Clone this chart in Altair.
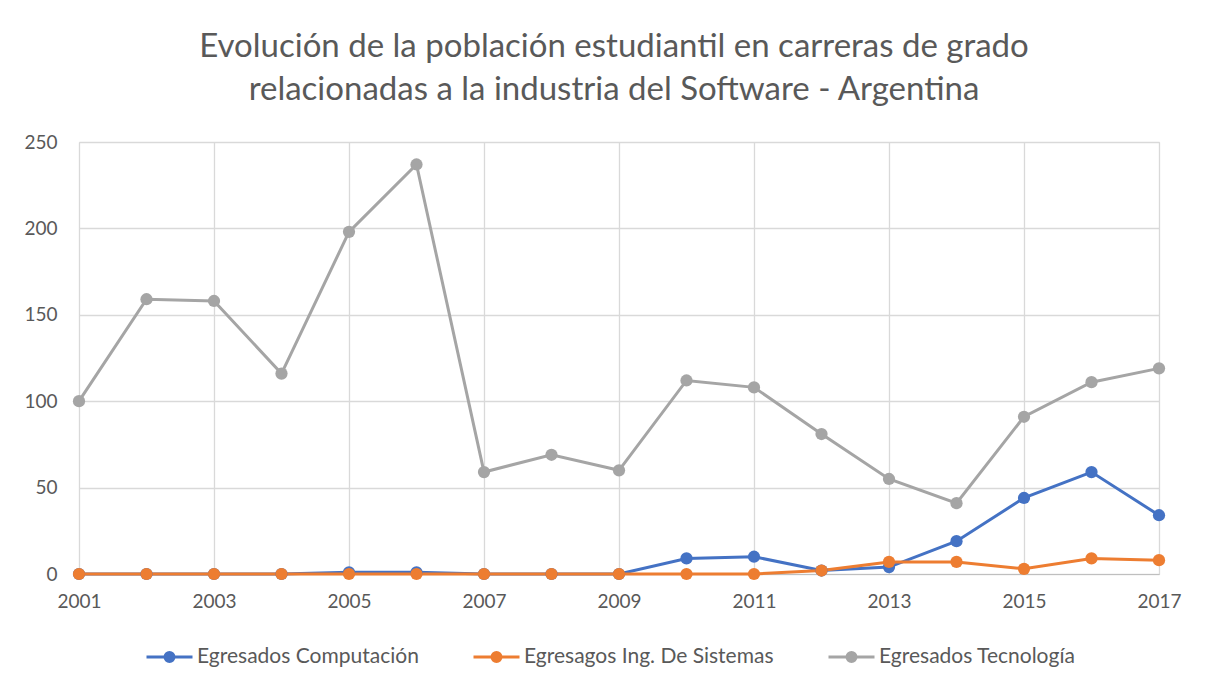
import altair as alt
import pandas as pd

years = list(range(2001, 2018))
computacion = [0, 0, 0, 0, 1, 1, 0, 0, 0, 9, 10, 2, 4, 19, 44, 59, 34]
sistemas = [0, 0, 0, 0, 0, 0, 0, 0, 0, 0, 0, 2, 7, 7, 3, 9, 8]
tecnologia = [100, 159, 158, 116, 198, 237, 59, 69, 60, 112, 108, 81, 55, 41, 91, 111, 119]

series_names = ["Egresados Computación", "Egresagos Ing. De Sistemas", "Egresados Tecnología"]
series_colors = ["#4472C4", "#ED7D31", "#A5A5A5"]
x_ticks = list(range(2001, 2018, 2))
y_ticks = [0, 50, 100, 150, 200, 250]

rows = []
for i, (name, vals) in enumerate(zip(series_names, [computacion, sistemas, tecnologia])):
    for yr, v in zip(years, vals):
        rows.append({"Año": yr, "Valor": v, "Serie": name, "Orden": i})
df = pd.DataFrame(rows)

FONT = "Lato"
TEXT = "#595959"
GRID = "#D9D9D9"

# legend glyph: line segment with a dot (dot built from concentric stroked rings)
legend_path = ("M-1,0H1 "
               "M-0.065,0A0.065,0.065 0 1,0 0.065,0A0.065,0.065 0 1,0 -0.065,0 "
               "M-0.13,0A0.13,0.13 0 1,0 0.13,0A0.13,0.13 0 1,0 -0.13,0 "
               "M-0.196,0A0.196,0.196 0 1,0 0.196,0A0.196,0.196 0 1,0 -0.196,0")

x_enc = alt.X("Año:Q",
              scale=alt.Scale(domain=[2001, 2017], nice=False, zero=False),
              axis=alt.Axis(values=x_ticks, format="d", title=None, ticks=False,
                            domain=True, domainColor="#BFBFBF", domainWidth=1,
                            labelFontSize=19, labelColor=TEXT, labelFont=FONT,
                            labelPadding=18, gridColor=GRID, gridWidth=1.3,
                            labelFlush=False))
y_enc = alt.Y("Valor:Q",
              scale=alt.Scale(domain=[0, 250], nice=False),
              axis=alt.Axis(values=y_ticks, title=None, ticks=False, domain=False,
                            labelFontSize=19, labelColor=TEXT, labelFont=FONT,
                            labelPadding=22, gridColor=GRID, gridWidth=1.3))
color_enc = alt.Color("Serie:N",
                      scale=alt.Scale(domain=series_names, range=series_colors),
                      sort=series_names,
                      legend=alt.Legend(title=None, orient="none", direction="horizontal",
                                        legendX=66, legendY=490,
                                        symbolType=legend_path, symbolSize=2116,
                                        symbolStrokeWidth=3, symbolOpacity=1,
                                        symbolFillColor="transparent",
                                        labelFontSize=21, labelFont=FONT, labelColor=TEXT,
                                        labelLimit=500, labelOffset=3, columnPadding=48))

lines = alt.Chart(df).mark_line(strokeWidth=3).encode(
    x=x_enc, y=y_enc, color=color_enc, detail="Serie:N")
points = alt.Chart(df).mark_point(filled=True, size=150, opacity=1).encode(
    x=x_enc, y=y_enc, color=alt.Color("Serie:N",
                                      scale=alt.Scale(domain=series_names, range=series_colors),
                                      legend=None),
    order=alt.Order("Orden:Q"))

chart = alt.layer(lines, points).properties(
    width=1080, height=432,
    title=alt.Title(["Evolución de la población estudiantil en carreras de grado",
                     "relacionadas a la industria del Software - Argentina"],
                    fontSize=33, font=FONT, color=TEXT, fontWeight="normal",
                    anchor="middle", lineHeight=43, offset=26, dx=-5),
    autosize=alt.AutoSizeParams(type="none"),
    padding={"left": 71, "top": 134, "right": 49, "bottom": 106},
).configure_view(stroke=None).configure(background="white")

chart.save("out.html", embed_options={"renderer": "svg", "actions": False})
